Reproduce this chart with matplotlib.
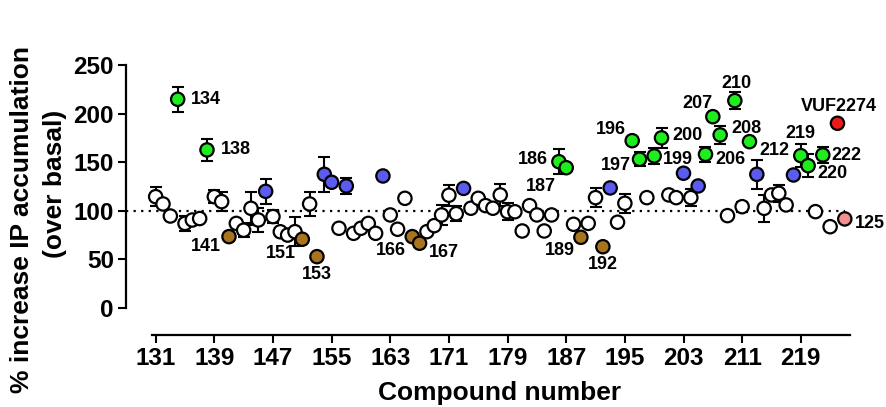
import matplotlib
matplotlib.use("Agg")
import matplotlib.pyplot as plt
import numpy as np

plt.rcParams['font.family'] = ['Liberation Sans', 'DejaVu Sans']
plt.rcParams['font.weight'] = 'bold'

# ---------------- data ----------------
compounds = list(range(131, 224))
values = [
    114.5, 107, 94.6, 214.7, 87, 90.5, 92, 162.6, 114.5, 109.4,      # 131-140
    73.4, 87, 80, 102.5, 90.5, 120, 94, 78.4, 75, 78.5,              # 141-150
    70.7, 107, 52.8, 137.5, 129.3, 82, 125.5, 76.8, 82, 87,          # 151-160
    76.8, 135.8, 95.7, 81, 112.8, 73.4, 66.6, 78.5, 84.7, 95.7,      # 161-170
    116, 97, 123, 102.6, 112.8, 105.3, 102.6, 116.3, 99, 99,         # 171-180
    79.2, 105.3, 95.7, 79.2, 95.7, 150.5, 144.3, 86.1, 72.7, 87,     # 181-190
    113.5, 63, 123.5, 88.2, 107.7, 172.1, 153, 113.5, 156.4, 175,    # 191-200
    116.3, 113.5, 138.6, 113.5, 125.5, 158.1, 196.8, 178, 95, 213.3, # 201-210
    104.2, 171.1, 137.5, 102.5, 116.3, 118, 106, 136.8, 156.7, 146.4,# 211-220
    99.1, 157.4, 83.6]                                               # 221-223
errors = {131: 10, 134: 13, 135: 8, 138: 11, 139: 7, 140: 10, 143: 7, 144: 17,
          145: 12, 146: 13, 147: 7, 150: 15, 152: 12, 154: 18, 157: 8, 170: 10,
          171: 11, 172: 8, 178: 11, 179: 9, 186: 13, 191: 10, 195: 10, 197: 7,
          199: 8, 200: 10, 204: 9, 206: 8, 208: 9, 210: 9, 211: 5, 213: 15,
          214: 14, 216: 9, 219: 12, 220: 12, 222: 8}
green_compounds = [134, 138, 186, 187, 196, 197, 199, 200, 206, 207, 208, 210,
                   212, 219, 220, 222]
blue_compounds = [146, 154, 155, 157, 162, 173, 193, 203, 205, 213, 218]
brown_compounds = [141, 151, 153, 166, 167, 189, 192]

reference_names = ["VUF2274", "125"]
reference_values = [190, 91.6]

xticks = list(range(131, 220, 8))
yticks = [0, 50, 100, 150, 200, 250]

# label placement (pixel offsets from point, ha, va)
label_layout = {
    134: (13.4, 0, 'left', 'center'),
    138: (14.3, 0, 'left', 'center'),
    141: (-8.3, -10, 'right', 'center'),
    151: (-6, -14, 'right', 'center'),
    153: (0, -18.3, 'center', 'center'),
    166: (-6.7, -14, 'right', 'center'),
    167: (9.3, -9.4, 'left', 'center'),
    186: (-11, 1.7, 'right', 'center'),
    187: (-10.7, -18.3, 'right', 'center'),
    189: (-6, -13.4, 'right', 'center'),
    192: (0, -17.3, 'center', 'center'),
    196: (-6.6, 10.7, 'right', 'center'),
    197: (-8.3, -6.7, 'right', 'center'),
    199: (9, -4, 'left', 'center'),
    200: (11, 2.7, 'left', 'center'),
    206: (10, -5.7, 'left', 'center'),
    207: (0, 13.4, 'right', 'center'),
    208: (11, 6.7, 'left', 'center'),
    210: (1.2, 16.7, 'center', 'center'),
    212: (10, -9, 'left', 'center'),
    219: (0, 22.4, 'center', 'center'),
    220: (9.3, -8.3, 'left', 'center'),
    222: (8.4, -1, 'left', 'center'),
}
ref_layout = {
    "VUF2274": (1.1, 16.6, 'center', 'center'),
    "125": (10.3, -4.3, 'left', 'center'),
}

# ---------------- styles ----------------
col_white = 'white'
col_green = '#1eee1e'
col_blue = '#5b5bf0'
col_brown = '#a8741e'
ref_colors = ['#ee1a1a', '#f29090']
msize = 92

fig = plt.figure(figsize=(8.86, 4.07), dpi=100)
ax = fig.add_axes([0.1422, 0.1769, 0.851, 0.6757])

x = np.array(compounds, dtype=float)
y = np.array(values, dtype=float)
colors = []
for c in compounds:
    if c in green_compounds:
        colors.append(col_green)
    elif c in blue_compounds:
        colors.append(col_blue)
    elif c in brown_compounds:
        colors.append(col_brown)
    else:
        colors.append(col_white)

xr = np.array([compounds[-1] + 1 + i for i in range(len(reference_names))], dtype=float)
yr = np.array(reference_values, dtype=float)

# baseline
ax.plot([127.0, 225.0], [100, 100], color='black', lw=1.6,
        linestyle=(0, (1, 2.4)), zorder=1)

# error bars
ex = [c for c in compounds if c in errors]
ey = [values[compounds.index(c)] for c in ex]
ee = [errors[c] for c in ex]
ax.errorbar(ex, ey, yerr=ee, fmt='none', ecolor='black', elinewidth=1.5,
            capsize=4.5, capthick=1.5, zorder=2)

# points
ax.scatter(x, y, s=msize, c=colors, edgecolors='black', linewidths=1.6, zorder=3)
ax.scatter(xr, yr, s=msize, c=ref_colors, edgecolors='black', linewidths=1.6, zorder=3)

# labels
for c, (dx, dy, ha, va) in label_layout.items():
    ax.annotate(str(c), (c, values[compounds.index(c)]), xytext=(dx, dy),
                textcoords='offset pixels', ha=ha, va=va, fontsize=13,
                fontweight='bold', annotation_clip=False)
for name, xx, yy in zip(reference_names, xr, yr):
    dx, dy, ha, va = ref_layout[name]
    ax.annotate(name, (xx, yy), xytext=(dx, dy), textcoords='offset pixels',
                ha=ha, va=va, fontsize=13, fontweight='bold',
                annotation_clip=False)

# axes
ax.set_xlim(126.95, 229.8)
ax.set_ylim(-27.8, 255.1)
ax.spines['top'].set_visible(False)
ax.spines['right'].set_visible(False)
ax.spines['left'].set_bounds(0, 250)
ax.spines['bottom'].set_bounds(130.5, 225.7)
for s in ('left', 'bottom'):
    ax.spines[s].set_linewidth(1.6)
ax.set_xticks(xticks)
ax.set_yticks(yticks)
ax.tick_params(direction='out', length=5.8, width=1.5, labelsize=17.5, pad=3)
for lab in ax.get_xticklabels() + ax.get_yticklabels():
    lab.set_fontweight('bold')

fig.text(0.5643, 0.0344, 'Compound number', ha='center', va='center',
         fontsize=19, fontweight='bold')
fig.text(0.0248, 0.4619, '% increase IP accumulation', rotation=90,
         ha='center', va='center', fontsize=19, fontweight='bold')
fig.text(0.0621, 0.5491, '(over basal)', rotation=90,
         ha='center', va='center', fontsize=19, fontweight='bold')

fig.savefig('out.png', dpi=100)
